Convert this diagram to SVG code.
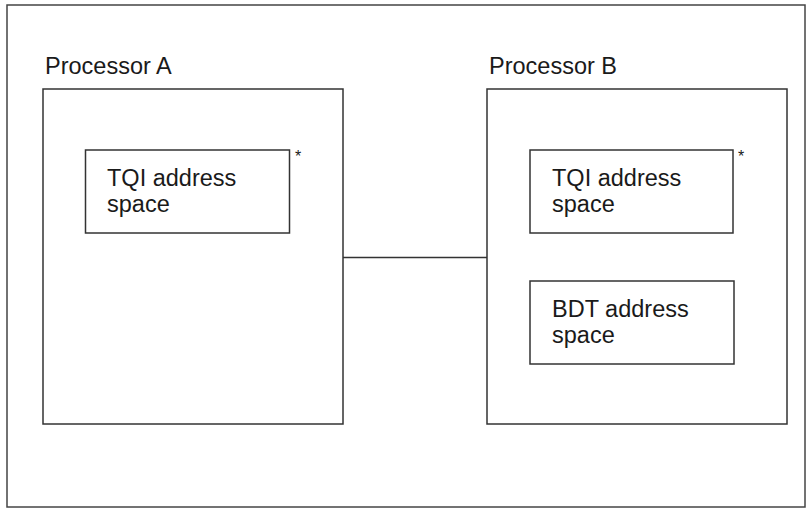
<svg xmlns="http://www.w3.org/2000/svg" width="812" height="508" viewBox="0 0 812 508">
<style>
.box{fill:#fff;stroke:#333;stroke-width:1.5}
.frame{fill:#fff;stroke:#444;stroke-width:1.5}
.t{font-family:"Liberation Sans",Arial,sans-serif;font-size:23.5px;fill:#1a1a1a}
.ast{font-family:"Liberation Sans",Arial,sans-serif;font-size:16px;fill:#1a1a1a}
.conn{stroke:#333;stroke-width:1.5;fill:none}
</style>
<rect class="frame" x="7" y="5" width="798" height="502"/>
<g id="connectors">
<line class="conn" x1="343" y1="257.5" x2="487" y2="257.5"/>
</g>
<g id="processorA">
<text class="t" x="45" y="74">Processor A</text>
<rect class="box" x="43" y="89" width="300" height="335"/>
</g>
<g id="tqiA">
<rect class="box" x="85.5" y="150" width="204" height="83"/>
<text class="t" x="107" y="186">TQI address</text>
<text class="t" x="107" y="212">space</text>
<text class="ast" x="295" y="162">*</text>
</g>
<g id="processorB">
<text class="t" x="489" y="74">Processor B</text>
<rect class="box" x="487" y="89" width="300" height="335"/>
</g>
<g id="tqiB">
<rect class="box" x="530" y="150" width="203" height="83"/>
<text class="t" x="552" y="186">TQI address</text>
<text class="t" x="552" y="212">space</text>
<text class="ast" x="738" y="162">*</text>
</g>
<g id="bdtB">
<rect class="box" x="530" y="281" width="204" height="83"/>
<text class="t" x="552" y="317">BDT address</text>
<text class="t" x="552" y="343">space</text>
</g>
</svg>
